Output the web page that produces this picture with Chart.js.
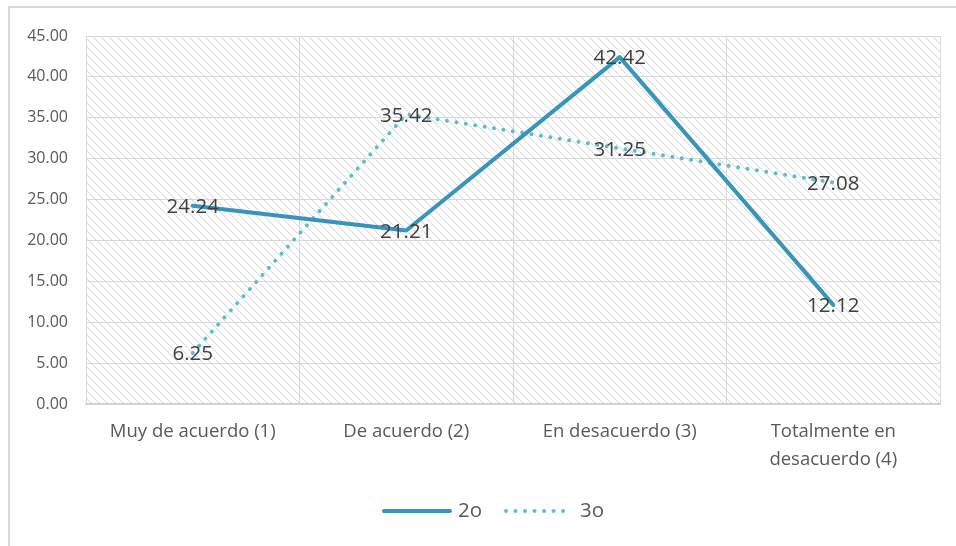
<!DOCTYPE html>
<html><head><meta charset="utf-8">
<script src="https://cdn.jsdelivr.net/npm/chart.js@4/dist/chart.umd.min.js"></script>
<style>html,body{margin:0;padding:0;background:#fff;overflow:hidden}#wrap{position:relative;width:956px;height:546px}</style>
</head><body><div id="wrap"><canvas id="c" width="956" height="546"></canvas></div>
<script>
const categories = ["Muy de acuerdo (1)", "De acuerdo (2)", "En desacuerdo (3)", ["Totalmente en", "desacuerdo (4)"]];
const seriesNames = ["2o", "3o"];
const values2o = [24.24, 21.21, 42.42, 12.12];
const values3o = [6.25, 35.42, 31.25, 27.08];
const yMin = 0, yMax = 45, yStep = 5;

function makePattern(ctx) {
  const t = document.createElement('canvas'); t.width = 8; t.height = 8;
  const g = t.getContext('2d');
  g.fillStyle = '#ffffff'; g.fillRect(0, 0, 8, 8);
  for (let i = 0; i < 8; i++) {
    g.fillStyle = (i % 2 === 0) ? '#d6d6d6' : '#e4e4e4'; g.fillRect(i, i, 1, 1);
    g.fillStyle = '#f2f2f2'; g.fillRect((i + 1) % 8, i, 1, 1);
  }
  return ctx.createPattern(t, 'repeat');
}

const backgroundPlugin = {
  id: 'bg',
  beforeDraw(chart) {
    const ctx = chart.ctx, a = chart.chartArea;
    ctx.save();
    ctx.fillStyle = '#ffffff'; ctx.fillRect(0, 0, chart.width, chart.height);
    ctx.strokeStyle = '#d9d9d9'; ctx.lineWidth = 2;
    ctx.beginPath(); ctx.moveTo(9, chart.height); ctx.lineTo(9, 7); ctx.lineTo(chart.width, 7); ctx.stroke();
    ctx.fillStyle = makePattern(ctx);
    ctx.fillRect(a.left, a.top, a.right - a.left, a.bottom - a.top);
    ctx.restore();
  }
};

const labelPlugin = {
  id: 'vlabels',
  afterDatasetsDraw(chart) {
    const ctx = chart.ctx;
    ctx.save();
    ctx.font = '20.5px "Open Sans"';
    ctx.fillStyle = '#404040';
    ctx.textAlign = 'center';
    ctx.textBaseline = 'middle';
    chart.data.datasets.forEach((ds, i) => {
      const meta = chart.getDatasetMeta(i);
      meta.data.forEach((pt, j) => ctx.fillText(ds.data[j].toFixed(2), pt.x, pt.y + 1.5));
    });
    ctx.restore();
  }
};

const legendPlugin = {
  id: 'customLegend',
  afterDraw(chart) {
    const ctx = chart.ctx;
    ctx.save();
    ctx.font = '20.5px "Open Sans"';
    const lineLen = 70, gapText = 6, gapItems = 22, cx = 493, cy = 511;
    const items = chart.data.datasets.map(ds => ({ ds, w: ctx.measureText(ds.label).width }));
    let total = 0;
    items.forEach((it, i) => { total += lineLen + gapText + it.w + (i ? gapItems : 0); });
    let x = cx - total / 2;
    items.forEach((it, i) => {
      if (i) x += gapItems;
      const ds = it.ds;
      ctx.strokeStyle = ds.borderColor; ctx.lineWidth = ds.borderWidth;
      ctx.lineCap = ds.borderCapStyle || 'butt';
      ctx.setLineDash(ds.borderDash || []);
      ctx.beginPath();
      ctx.moveTo(x + 2, cy); ctx.lineTo(x + lineLen - 2, cy);
      ctx.stroke();
      ctx.setLineDash([]);
      x += lineLen + gapText;
      ctx.fillStyle = '#595959'; ctx.textAlign = 'left'; ctx.textBaseline = 'middle';
      ctx.fillText(ds.label, x, cy);
      x += it.w;
    });
    ctx.restore();
  }
};

new Chart(document.getElementById('c'), {
  type: 'line',
  data: {
    labels: categories,
    datasets: [
      { label: seriesNames[0], data: values2o, borderColor: '#3794ba', backgroundColor: '#3794ba',
        borderWidth: 4, pointRadius: 0, tension: 0, borderCapStyle: 'round', borderJoinStyle: 'round' },
      { label: seriesNames[1], data: values3o, borderColor: '#5bbfcb', backgroundColor: '#5bbfcb',
        borderWidth: 4, borderDash: [0.01, 9.5], borderCapStyle: 'round', pointRadius: 0, tension: 0 }
    ]
  },
  options: {
    responsive: false, animation: false, devicePixelRatio: 1,
    layout: { padding: { left: 0, right: 16, top: 36, bottom: 55.5 } },
    scales: {
      x: {
        offset: true,
        grid: { color: '#d9d9d9', lineWidth: 1, drawTicks: false, offset: true },
        border: { color: '#d0d0d0', width: 1.5 },
        ticks: { color: '#595959', font: { family: 'Open Sans', size: 18.5, lineHeight: 1.5 }, padding: 14, maxRotation: 0, autoSkip: false },
        afterFit(s) { s.height = 86.5; }
      },
      y: {
        min: yMin, max: yMax,
        grid: { color: '#d9d9d9', lineWidth: 1, drawTicks: false },
        border: { display: false },
        ticks: { stepSize: yStep, color: '#595959', font: { family: 'Open Sans', size: 16 }, padding: 18,
          callback: v => Number(v).toFixed(2) },
        afterFit(s) { s.width = 86; }
      }
    },
    plugins: {
      legend: { display: false },
      tooltip: { enabled: false }
    }
  },
  plugins: [backgroundPlugin, labelPlugin, legendPlugin]
});
</script></body></html>
